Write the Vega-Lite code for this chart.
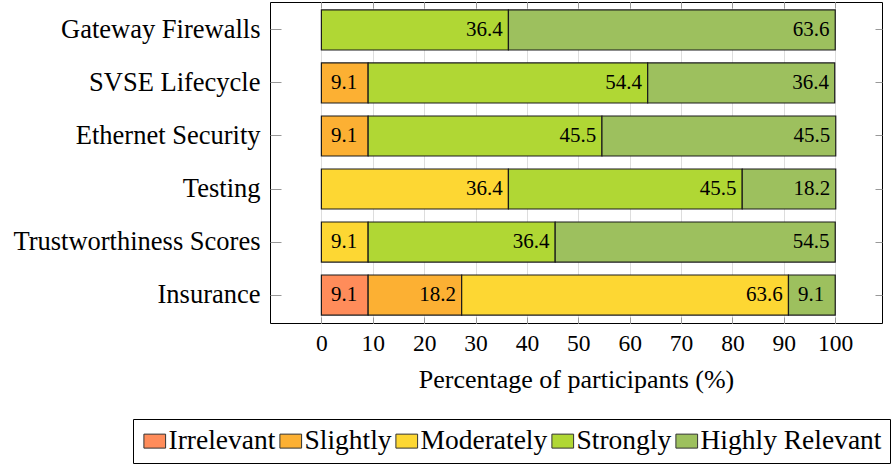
{
  "$schema": "https://vega.github.io/schema/vega-lite/v6.json",
  "width": 612,
  "height": 321,
  "autosize": "none",
  "padding": {"left": 270, "top": 2, "right": 9, "bottom": 142},
  "background": "white",
  "data": {
    "values": [
      {"item": "Gateway Firewalls", "level": "Strongly", "value": 36.4},
      {"item": "Gateway Firewalls", "level": "Highly Relevant", "value": 63.6},
      {"item": "SVSE Lifecycle", "level": "Slightly", "value": 9.1},
      {"item": "SVSE Lifecycle", "level": "Strongly", "value": 54.4},
      {"item": "SVSE Lifecycle", "level": "Highly Relevant", "value": 36.4},
      {"item": "Ethernet Security", "level": "Slightly", "value": 9.1},
      {"item": "Ethernet Security", "level": "Strongly", "value": 45.5},
      {"item": "Ethernet Security", "level": "Highly Relevant", "value": 45.5},
      {"item": "Testing", "level": "Moderately", "value": 36.4},
      {"item": "Testing", "level": "Strongly", "value": 45.5},
      {"item": "Testing", "level": "Highly Relevant", "value": 18.2},
      {"item": "Trustworthiness Scores", "level": "Moderately", "value": 9.1},
      {"item": "Trustworthiness Scores", "level": "Strongly", "value": 36.4},
      {"item": "Trustworthiness Scores", "level": "Highly Relevant", "value": 54.5},
      {"item": "Insurance", "level": "Irrelevant", "value": 9.1},
      {"item": "Insurance", "level": "Slightly", "value": 18.2},
      {"item": "Insurance", "level": "Moderately", "value": 63.6},
      {"item": "Insurance", "level": "Highly Relevant", "value": 9.1}
    ]
  },
  "transform": [
    {"stack": "value", "groupby": ["item"], "as": ["x0", "x1"]}
  ],
  "layer": [
    {
      "mark": {"type": "bar", "stroke": "#1a1a1a", "strokeWidth": 1.2},
      "encoding": {
        "y": {
          "field": "item", "type": "nominal", "title": null,
          "sort": ["Gateway Firewalls", "SVSE Lifecycle", "Ethernet Security", "Testing", "Trustworthiness Scores", "Insurance"],
          "scale": {"paddingInner": 0.245, "paddingOuter": 0.15},
          "axis": {
            "orient": "left", "domain": false, "ticks": true, "tickColor": "#999999", "tickSize": -11,
            "labelPadding": 21, "labelFontSize": 26.5, "labelColor": "black", "labelFont": "Liberation Serif", "labelLimit": 400
          }
        },
        "x": {
          "field": "x0", "type": "quantitative",
          "scale": {"domain": [-10, 109.1], "nice": false, "zero": false},
          "axis": {
            "orient": "bottom", "values": [0, 10, 20, 30, 40, 50, 60, 70, 80, 90, 100],
            "domain": false, "ticks": true, "tickColor": "#999999", "tickSize": -6,
            "grid": true, "gridColor": "#dddddd",
            "labelPadding": 14, "labelFontSize": 23.5, "labelColor": "black", "labelFont": "Liberation Serif",
            "title": "Percentage of participants (%)", "titleFontSize": 26, "titleFont": "Liberation Serif",
            "titleFontWeight": "normal", "titleColor": "black", "titlePadding": 12
          }
        },
        "x2": {"field": "x1"},
        "color": {
          "field": "level", "type": "nominal",
          "scale": {
            "domain": ["Irrelevant", "Slightly", "Moderately", "Strongly", "Highly Relevant"],
            "range": ["#FF8C5A", "#FCB033", "#FDD733", "#B0D734", "#9DC05E"]
          },
          "legend": {
            "orient": "none", "legendX": -137, "legendY": 417, "direction": "horizontal", "columns": 5,
            "title": null, "strokeColor": "black", "fillColor": "white", "padding": 8,
            "symbolType": "M-1,-0.645H1V0.645H-1Z", "symbolSize": 471,
            "symbolStrokeColor": "#333333", "symbolStrokeWidth": 1, "symbolOpacity": 1,
            "labelFontSize": 27.5, "labelFont": "Liberation Serif", "labelColor": "black",
            "labelOffset": 0, "columnPadding": 1, "labelLimit": 400
          }
        }
      }
    },
    {
      "mark": {"type": "text", "align": "center", "baseline": "middle", "dx": -24, "fontSize": 21, "font": "Liberation Serif", "color": "black"},
      "encoding": {
        "y": {
          "field": "item", "type": "nominal", "title": null,
          "sort": ["Gateway Firewalls", "SVSE Lifecycle", "Ethernet Security", "Testing", "Trustworthiness Scores", "Insurance"],
          "scale": {"paddingInner": 0.245, "paddingOuter": 0.15},
          "axis": {"orient": "right", "domain": false, "labels": false, "ticks": true, "tickColor": "#999999", "tickSize": -7}
        },
        "x": {
          "field": "x1", "type": "quantitative",
          "scale": {"domain": [-10, 109.1], "nice": false, "zero": false},
          "axis": {
            "orient": "top", "values": [0, 10, 20, 30, 40, 50, 60, 70, 80, 90, 100],
            "domain": false, "labels": false, "ticks": true, "tickColor": "#999999", "tickSize": -6, "grid": false, "title": null
          }
        },
        "text": {"field": "value", "type": "quantitative", "format": ".1f"}
      }
    }
  ],
  "resolve": {"axis": {"x": "independent", "y": "independent"}},
  "config": {
    "view": {"stroke": "black", "strokeWidth": 1},
    "font": "Liberation Serif"
  }
}
